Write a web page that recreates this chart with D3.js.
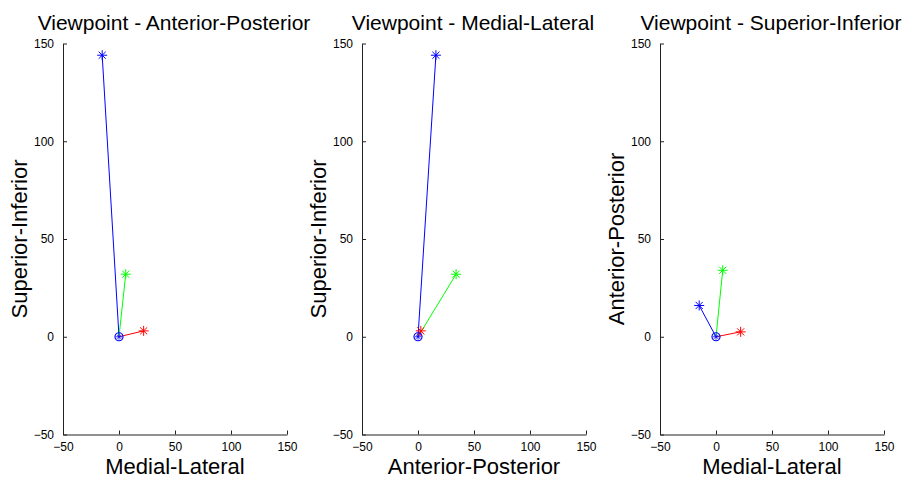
<!DOCTYPE html>
<html>
<head>
<meta charset="utf-8">
<script src="https://cdn.jsdelivr.net/npm/d3@7/dist/d3.min.js"></script>
<style>
  html, body { margin: 0; padding: 0; background: #fff; }
  svg { display: block; }
  text { font-family: "Liberation Sans", Arial, sans-serif; fill: #000; }
</style>
</head>
<body>
<svg id="chart" width="914" height="481"></svg>
<script>
// Three anatomical vectors from a common origin (components in each direction)
const vectorNames = ["blue", "green", "red"];
const vectorColors = ["#0000ff", "#00ff00", "#ff0000"];
const medialLateral = [-15, 6, 22];
const anteriorPosterior = [16, 34, 2.5];
const superiorInferior = [144, 32, 3];

// Projection panels
const panelTitles = ["Viewpoint - Anterior-Posterior", "Viewpoint - Medial-Lateral", "Viewpoint - Superior-Inferior"];
const panelXLabels = ["Medial-Lateral", "Anterior-Posterior", "Medial-Lateral"];
const panelYLabels = ["Superior-Inferior", "Superior-Inferior", "Anterior-Posterior"];
const panelXData = [medialLateral, anteriorPosterior, medialLateral];
const panelYData = [superiorInferior, superiorInferior, anteriorPosterior];

const axisDomain = [-50, 150];
const tickValues = [-50, 0, 50, 100, 150];

const panelLeft = [63, 362, 660];
const panelWidth = 224;
const plotTop = 43.5, plotBottom = 434.5;

const svg = d3.select("#chart");

function starPath(r) {
  const d = r * Math.SQRT1_2;
  return `M${-r},0L${r},0M0,${-r}L0,${r}M${-d},${-d}L${d},${d}M${-d},${d}L${d},${-d}`;
}

panelTitles.forEach((title, p) => {
  const x = d3.scaleLinear().domain(axisDomain).range([panelLeft[p], panelLeft[p] + panelWidth]);
  const y = d3.scaleLinear().domain(axisDomain).range([plotBottom, plotTop]);
  const g = svg.append("g");

  // axes (ticks point inward, no box)
  const xAxis = d3.axisBottom(x).tickValues(tickValues).tickSizeInner(-4).tickSizeOuter(0).tickPadding(9);
  const yAxis = d3.axisLeft(y).tickValues(tickValues).tickSizeInner(-4).tickSizeOuter(0).tickPadding(9);

  const gx = g.append("g").attr("transform", `translate(0,${plotBottom})`).call(xAxis);
  const gy = g.append("g").attr("transform", `translate(${panelLeft[p]},0)`).call(yAxis);
  [gx, gy].forEach(a => {
    a.select(".domain").attr("stroke", "#222").attr("stroke-width", 1);
    a.selectAll(".tick line").attr("stroke", "#222");
    a.selectAll(".tick text").style("font-size", "12px").style("font-family", "'Liberation Sans', Arial, sans-serif").attr("fill", "#000");
  });
  gx.selectAll(".tick text").attr("dy", "0.6em");

  // title
  g.append("text")
    .attr("x", panelLeft[p] + panelWidth / 2 - 1)
    .attr("y", 30)
    .attr("text-anchor", "middle")
    .style("font-size", "21px")
    .text(title);

  // axis labels
  g.append("text")
    .attr("x", panelLeft[p] + panelWidth / 2)
    .attr("y", 474)
    .attr("text-anchor", "middle")
    .style("font-size", "22px")
    .text(panelXLabels[p]);

  g.append("text")
    .attr("transform", `translate(${panelLeft[p] - 36},${(plotTop + plotBottom) / 2}) rotate(-90)`)
    .attr("text-anchor", "middle")
    .style("font-size", "22px")
    .text(panelYLabels[p]);

  // vectors from the origin
  vectorNames.forEach((name, i) => {
    const vx = panelXData[p][i], vy = panelYData[p][i];
    g.append("line")
      .attr("x1", x(0)).attr("y1", y(0))
      .attr("x2", x(vx)).attr("y2", y(vy))
      .attr("stroke", vectorColors[i]).attr("stroke-width", 1);
    g.append("path")
      .attr("d", starPath(5))
      .attr("transform", `translate(${x(vx)},${y(vy)})`)
      .attr("stroke", vectorColors[i]).attr("stroke-width", 1).attr("fill", "none");
  });

  // origin marker
  g.append("circle")
    .attr("cx", x(0)).attr("cy", y(0)).attr("r", 4)
    .attr("fill", "none").attr("stroke", "#0000ff").attr("stroke-width", 1.2);
  g.append("path")
    .attr("d", starPath(3))
    .attr("transform", `translate(${x(0)},${y(0)})`)
    .attr("stroke", "#0000ff").attr("stroke-width", 0.8).attr("fill", "none");
});
</script>
</body>
</html>
